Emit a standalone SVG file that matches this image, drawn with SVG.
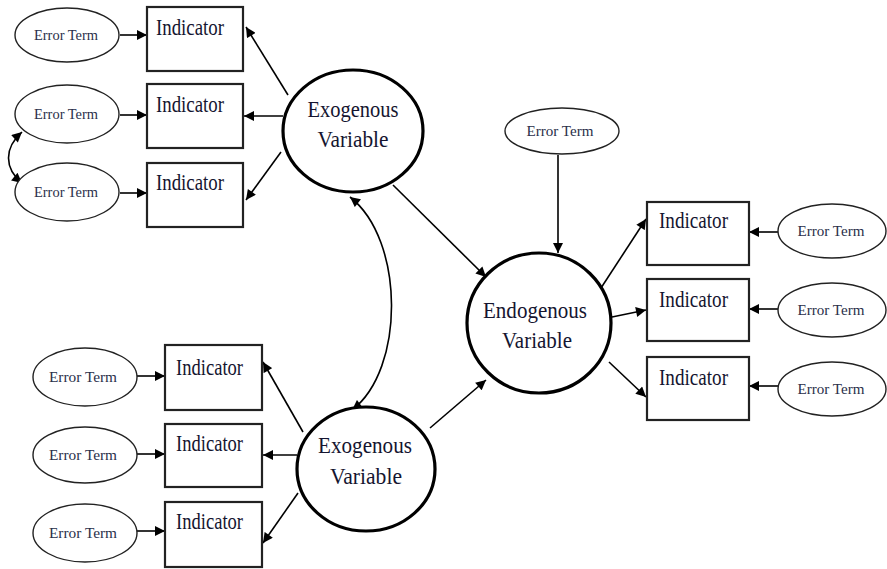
<svg xmlns="http://www.w3.org/2000/svg" width="887" height="569" viewBox="0 0 887 569">
  <defs>
    <marker id="arrow" viewBox="0 0 10 10" refX="10" refY="5" markerWidth="11" markerHeight="10" markerUnits="userSpaceOnUse" orient="auto-start-reverse">
      <path d="M0,0 L10,5 L0,10 z" fill="#000"/>
    </marker>
  </defs>
  <style>
    .err { fill: #fff; stroke: #222; stroke-width: 1.4; }
    .ind { fill: #fff; stroke: #222; stroke-width: 2.2; }
    .lat { fill: #fff; stroke: #000; stroke-width: 3.2; }
    .et { font-family: "Liberation Serif", "Times New Roman", serif; font-size: 14px; fill: #2a2f4a; text-anchor: middle; }
    .it { font-family: "Liberation Serif", "Times New Roman", serif; font-size: 23px; fill: #151530; }
    .lt { font-family: "Liberation Serif", "Times New Roman", serif; font-size: 23px; fill: #151530; text-anchor: middle; }
    .c { fill: none; stroke: #000; stroke-width: 1.6; marker-end: url(#arrow); }
    .cc { fill: none; stroke: #000; stroke-width: 1.6; marker-start: url(#arrow); marker-end: url(#arrow); }
  </style>
  <rect width="887" height="569" fill="#fff"/>

  <!-- connectors -->
  <g id="connectors">
    <!-- top-left error terms to indicators -->
    <line class="c" x1="120" y1="35" x2="147" y2="35"/>
    <line class="c" x1="120" y1="115" x2="147" y2="115"/>
    <line class="c" x1="120" y1="193" x2="147" y2="193"/>
    <path class="cc" d="M22,132 C4,148 4,168 22,183"/>
    <!-- upper exogenous to its indicators -->
    <line class="c" x1="288" y1="95" x2="246" y2="27"/>
    <line class="c" x1="283" y1="116" x2="244" y2="116"/>
    <line class="c" x1="281" y1="152" x2="246" y2="200"/>
    <!-- covariance between exogenous variables -->
    <path class="cc" d="M350,197 C405,240 405,370 352,410"/>
    <!-- structural paths -->
    <line class="c" x1="393" y1="185" x2="486" y2="277"/>
    <line class="c" x1="430" y1="428" x2="486" y2="380"/>
    <line class="c" x1="558" y1="155" x2="558" y2="253"/>
    <!-- endogenous to its indicators -->
    <line class="c" x1="601" y1="288" x2="646" y2="219"/>
    <line class="c" x1="612" y1="317" x2="646" y2="310"/>
    <line class="c" x1="609" y1="362" x2="646" y2="397"/>
    <!-- right error terms to indicators -->
    <line class="c" x1="778" y1="232" x2="749" y2="232"/>
    <line class="c" x1="778" y1="309" x2="749" y2="309"/>
    <line class="c" x1="778" y1="386" x2="749" y2="386"/>
    <!-- lower exogenous to its indicators -->
    <line class="c" x1="303" y1="432" x2="263" y2="362"/>
    <line class="c" x1="297" y1="455" x2="263" y2="455"/>
    <line class="c" x1="298" y1="493" x2="263" y2="543"/>
    <!-- bottom-left error terms to indicators -->
    <line class="c" x1="137" y1="376" x2="165" y2="376"/>
    <line class="c" x1="137" y1="454" x2="165" y2="454"/>
    <line class="c" x1="137" y1="531" x2="165" y2="531"/>
  </g>

  <!-- top-left block -->
  <g id="err-tl1"><ellipse class="err" cx="67" cy="35" rx="52" ry="27"/><text class="et" x="66" y="40" textLength="64" lengthAdjust="spacingAndGlyphs">Error Term</text></g>
  <g id="err-tl2"><ellipse class="err" cx="67" cy="114" rx="52" ry="29"/><text class="et" x="66" y="119" textLength="64" lengthAdjust="spacingAndGlyphs">Error Term</text></g>
  <g id="err-tl3"><ellipse class="err" cx="67" cy="192" rx="52" ry="29"/><text class="et" x="66" y="197" textLength="64" lengthAdjust="spacingAndGlyphs">Error Term</text></g>
  <g id="ind-tl1"><rect class="ind" x="147" y="7" width="96" height="64"/><text class="it" x="156" y="35" textLength="68" lengthAdjust="spacingAndGlyphs">Indicator</text></g>
  <g id="ind-tl2"><rect class="ind" x="147" y="84" width="96" height="64"/><text class="it" x="156" y="112" textLength="68" lengthAdjust="spacingAndGlyphs">Indicator</text></g>
  <g id="ind-tl3"><rect class="ind" x="147" y="163" width="96" height="64"/><text class="it" x="156" y="190" textLength="68" lengthAdjust="spacingAndGlyphs">Indicator</text></g>

  <!-- upper exogenous latent -->
  <g id="exo-top">
    <ellipse class="lat" cx="353" cy="131" rx="70" ry="61"/>
    <text class="lt" x="353" y="117" textLength="91" lengthAdjust="spacingAndGlyphs">Exogenous</text>
    <text class="lt" x="353" y="147" textLength="71" lengthAdjust="spacingAndGlyphs">Variable</text>
  </g>

  <!-- endogenous block -->
  <g id="err-endo"><ellipse class="err" cx="562" cy="131" rx="57" ry="23"/><text class="et" x="560" y="136" textLength="67" lengthAdjust="spacingAndGlyphs">Error Term</text></g>
  <g id="endo">
    <ellipse class="lat" cx="539" cy="323" rx="72" ry="70"/>
    <text class="lt" x="535" y="318" textLength="104" lengthAdjust="spacingAndGlyphs">Endogenous</text>
    <text class="lt" x="537" y="348" textLength="70" lengthAdjust="spacingAndGlyphs">Variable</text>
  </g>
  <g id="ind-r1"><rect class="ind" x="647" y="202" width="102" height="63"/><text class="it" x="659" y="228" textLength="69" lengthAdjust="spacingAndGlyphs">Indicator</text></g>
  <g id="ind-r2"><rect class="ind" x="647" y="279" width="102" height="62"/><text class="it" x="659" y="307" textLength="69" lengthAdjust="spacingAndGlyphs">Indicator</text></g>
  <g id="ind-r3"><rect class="ind" x="647" y="357" width="102" height="63"/><text class="it" x="659" y="385" textLength="69" lengthAdjust="spacingAndGlyphs">Indicator</text></g>
  <g id="err-r1"><ellipse class="err" cx="832" cy="231" rx="54" ry="27"/><text class="et" x="831" y="236" textLength="67" lengthAdjust="spacingAndGlyphs">Error Term</text></g>
  <g id="err-r2"><ellipse class="err" cx="832" cy="310" rx="54" ry="27"/><text class="et" x="831" y="315" textLength="67" lengthAdjust="spacingAndGlyphs">Error Term</text></g>
  <g id="err-r3"><ellipse class="err" cx="832" cy="389" rx="54" ry="27"/><text class="et" x="831" y="394" textLength="67" lengthAdjust="spacingAndGlyphs">Error Term</text></g>

  <!-- lower exogenous latent -->
  <g id="exo-bottom">
    <ellipse class="lat" cx="366" cy="469" rx="69" ry="62"/>
    <text class="lt" x="365" y="453" textLength="94" lengthAdjust="spacingAndGlyphs">Exogenous</text>
    <text class="lt" x="366" y="484" textLength="72" lengthAdjust="spacingAndGlyphs">Variable</text>
  </g>

  <!-- bottom-left block -->
  <g id="ind-bl1"><rect class="ind" x="165" y="345" width="97" height="65"/><text class="it" x="176" y="375" textLength="67" lengthAdjust="spacingAndGlyphs">Indicator</text></g>
  <g id="ind-bl2"><rect class="ind" x="165" y="424" width="97" height="63"/><text class="it" x="176" y="451" textLength="67" lengthAdjust="spacingAndGlyphs">Indicator</text></g>
  <g id="ind-bl3"><rect class="ind" x="165" y="502" width="97" height="65"/><text class="it" x="176" y="529" textLength="67" lengthAdjust="spacingAndGlyphs">Indicator</text></g>
  <g id="err-bl1"><ellipse class="err" cx="85" cy="377" rx="52" ry="29"/><text class="et" x="83" y="382" textLength="68" lengthAdjust="spacingAndGlyphs">Error Term</text></g>
  <g id="err-bl2"><ellipse class="err" cx="85" cy="455" rx="52" ry="28"/><text class="et" x="83" y="460" textLength="68" lengthAdjust="spacingAndGlyphs">Error Term</text></g>
  <g id="err-bl3"><ellipse class="err" cx="85" cy="533" rx="52" ry="29"/><text class="et" x="83" y="538" textLength="68" lengthAdjust="spacingAndGlyphs">Error Term</text></g>
</svg>
